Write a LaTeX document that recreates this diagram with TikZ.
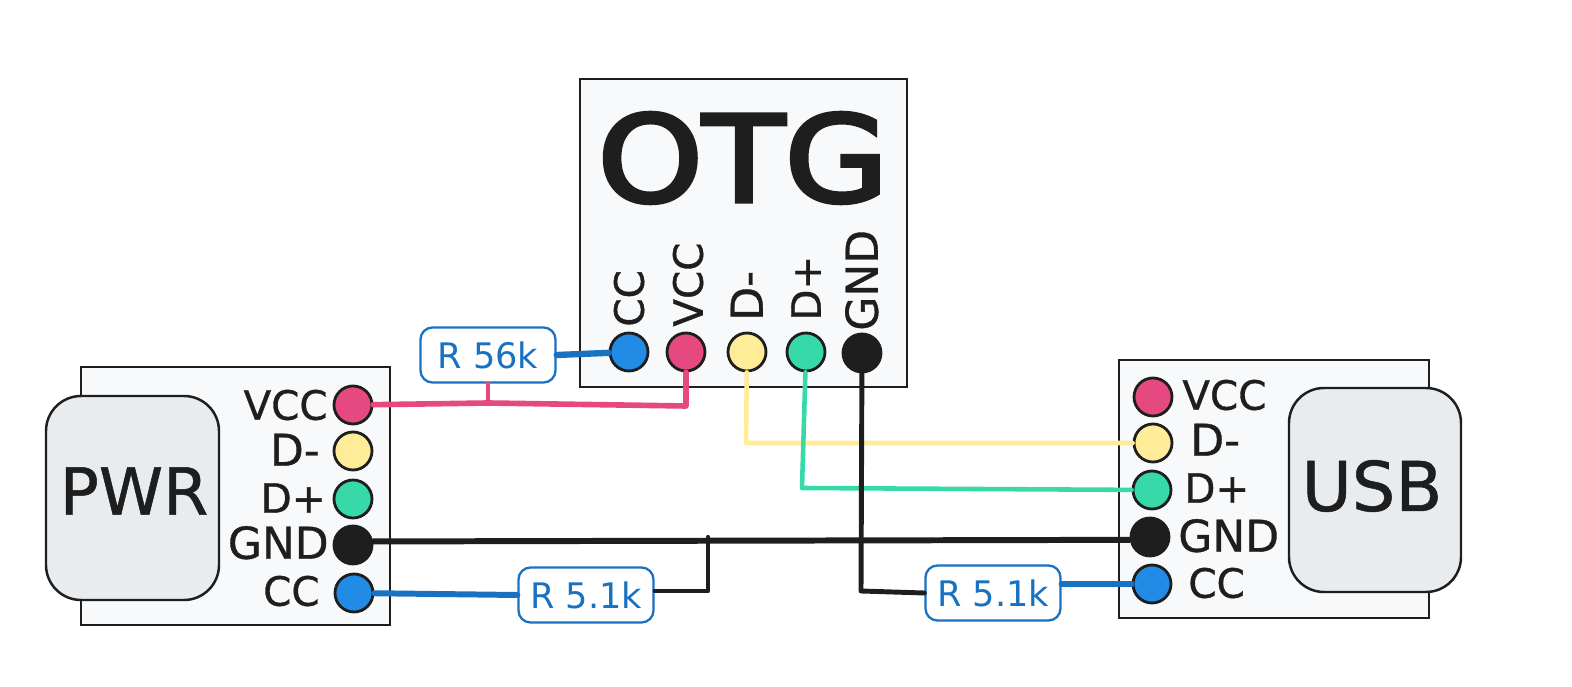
\documentclass[tikz,border=0pt]{standalone}
\usepackage{fontspec}
\setmainfont{DejaVu Sans}
\newfontfamily\otgfont[FakeBold=3.5]{DejaVu Sans}
\newfontfamily\pinfont[FakeBold=0.8]{DejaVu Sans}
\definecolor{inkblack}{HTML}{1E1E1E}
\definecolor{boardfill}{HTML}{F8F9FA}
\definecolor{plugfill}{HTML}{E9ECEF}
\definecolor{pinblue}{HTML}{228BE6}
\definecolor{wireblue}{HTML}{1971C2}
\definecolor{pinpink}{HTML}{E64980}
\definecolor{pinyellow}{HTML}{FFEC99}
\definecolor{pingreen}{HTML}{38D9A9}
\tikzset{
  boardbox/.style={draw=inkblack,fill=boardfill,line width=1.3pt},
  plugbox/.style={draw=inkblack,fill=plugfill,line width=1.4pt,rounded corners=7mm},
  pinnode/.style={circle,draw=inkblack,line width=1.6pt,minimum size=7.6mm,inner sep=0pt},
  pinlabel/.style={text=inkblack,font=\pinfont\fontsize{23}{23}\selectfont,inner sep=0pt,text height=5.9mm,text depth=0pt},
  widelabel/.style={pinlabel,font=\pinfont\fontsize{25}{25}\selectfont},
  plugtext/.style={text=inkblack,font=\pinfont\fontsize{37}{37}\selectfont,inner sep=0pt},
  resbox/.style={draw=wireblue,fill=white,text=wireblue,line width=1.3pt,rounded corners=2.4mm,
    minimum width=27mm,minimum height=11mm,inner sep=0pt,font=\fontsize{20}{20}\selectfont},
  wire/.style={line width=#1,line cap=round,line join=round},
}
\begin{document}
\begin{tikzpicture}[x=0.2mm,y=-0.2mm]
      \useasboundingbox (0,0) rectangle (1572,687);

      % Boards
      \draw[boardbox] (81,367) rectangle (390,625);
      \draw[boardbox] (1119,360) rectangle (1429,618);
      \draw[boardbox] (580,79) rectangle (907,387);

      % Plugs
      \draw[plugbox] (46,396) rectangle (219,600);
      \draw[plugbox] (1289,388) rectangle (1461,592);
      \node[plugtext] (pwrtext) at (134,491) {PWR};
      \node[plugtext,font=\pinfont\fontsize{39}{39}\selectfont] (usbtext) at (1372,486) {USB};

      % OTG
      \node[text=inkblack,inner sep=0pt,xscale=1.12,font=\otgfont\fontsize{68}{68}\selectfont] (otgtext) at (743,158) {OTG};
      \node[pinnode,fill=pinblue] (otgcc) at (629,352) {};
      \node[pinnode,fill=pinpink] (otgvcc) at (686,352) {};
      \node[pinnode,fill=pinyellow] (otgdm) at (747,352) {};
      \node[pinnode,fill=pingreen] (otgdp) at (806,352) {};
      \node[pinnode,fill=inkblack] (otggnd) at (862,353) {};
      \node[pinlabel,rotate=90,anchor=west] (otgcclabel) at (629,327) {CC};
      \node[pinlabel,rotate=90,anchor=west] (otgvcclabel) at (688,327) {VCC};
      \node[widelabel,rotate=90,anchor=west] (otgdmlabel) at (748,321) {D-};
      \node[pinlabel,rotate=90,anchor=west] (otgdplabel) at (806,321) {D+};
      \node[widelabel,rotate=90,anchor=west] (otggndlabel) at (863,331) {GND};

      % PWR
      \node[pinnode,fill=pinpink] (pwrvcc) at (353,405) {};
      \node[pinnode,fill=pinyellow] (pwrdm) at (353,451) {};
      \node[pinnode,fill=pingreen] (pwrdp) at (353,499) {};
      \node[pinnode,fill=inkblack] (pwrgnd) at (353,545) {};
      \node[pinnode,fill=pinblue] (pwrcc) at (354,593) {};
      \node[pinlabel,anchor=east] (pwrvcclabel) at (328,405) {VCC};
      \node[widelabel,anchor=east] (pwrdmlabel) at (320,451) {D-};
      \node[pinlabel,anchor=east] (pwrdplabel) at (326,498) {D+};
      \node[widelabel,anchor=east] (pwrgndlabel) at (329,544) {GND};
      \node[pinlabel,anchor=east] (pwrcclabel) at (320,591) {CC};

      % USB
      \node[pinnode,fill=pinpink] (usbvcc) at (1153,397) {};
      \node[pinnode,fill=pinyellow] (usbdm) at (1153,443) {};
      \node[pinnode,fill=pingreen] (usbdp) at (1152,490) {};
      \node[pinnode,fill=inkblack] (usbgnd) at (1150,537) {};
      \node[pinnode,fill=pinblue] (usbcc) at (1152,584) {};
      \node[pinlabel,anchor=west] (usbvcclabel) at (1182,395) {VCC};
      \node[widelabel,anchor=west] (usbdmlabel) at (1190,441) {D-};
      \node[pinlabel,anchor=west] (usbdplabel) at (1184,488) {D+};
      \node[widelabel,anchor=west] (usbgndlabel) at (1178,537) {GND};
      \node[pinlabel,anchor=west] (usbcclabel) at (1188,583) {CC};

      % Resistors
      \node[resbox] (rotg) at (488,355) {R 56k};
      \node[resbox] (rpwr) at (586,595) {R 5.1k};
      \node[resbox] (rusb) at (993,593) {R 5.1k};

      % Bends
      \coordinate (vccbend) at (686,406);
      \coordinate (vcctap) at (488,403);
      \coordinate (dmbend) at (746,443);
      \coordinate (dpbend) at (802,488);
      \coordinate (gndbend) at (861,591);
      \coordinate (pwrtapbend) at (708,591);
      \coordinate (gndtap) at (708,537);

      % Wires
      \draw[wire=2.6pt,pinpink] (rotg.south) -- (vcctap);
      \draw[wire=3.2pt,pinpink] (pwrvcc) -- (vcctap) -- (vccbend) -- (otgvcc);
      \draw[wire=3.6pt,wireblue] (rotg.east) -- (otgcc);
      \draw[wire=2.6pt,pinyellow] (otgdm) -- (dmbend) -- (usbdm);
      \draw[wire=2.6pt,pingreen] (otgdp) -- (dpbend) -- (usbdp);
      \draw[wire=3.4pt,inkblack] (pwrgnd.10) -- (usbgnd.188);
      \draw[wire=2.8pt,inkblack] (otggnd) -- (gndbend) -- (rusb.west);
      \draw[wire=2.4pt,inkblack] (rpwr.east |- pwrtapbend) -- (pwrtapbend) -- (gndtap);
      \draw[wire=3.4pt,wireblue] (pwrcc) -- (rpwr.west);
      \draw[wire=3.4pt,wireblue] (rusb.east |- usbcc) -- (usbcc);
    \end{tikzpicture}
\end{document}
